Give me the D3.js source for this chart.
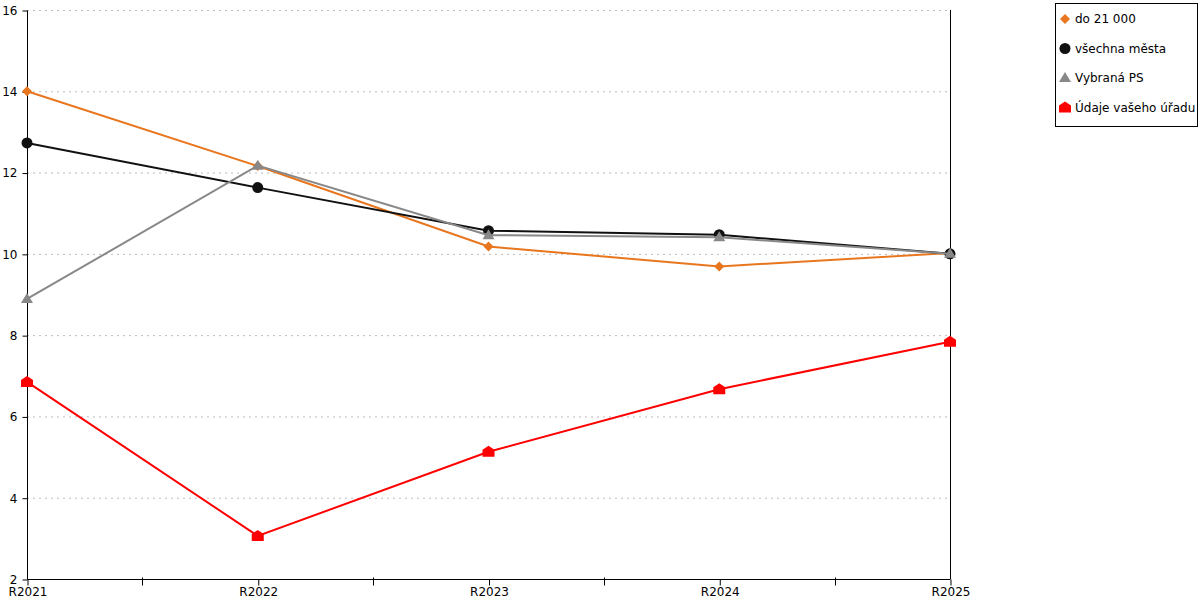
<!DOCTYPE html>
<html>
<head>
<meta charset="utf-8">
<script src="https://cdn.jsdelivr.net/npm/d3@7"></script>
<style>
  body { margin: 0; background: #fff; }
  text { font-family: "DejaVu Sans", Verdana, sans-serif; }
</style>
</head>
<body>
<div id="chart"></div>
<script>
var categories = ["R2021", "R2022", "R2023", "R2024", "R2025"];
var yTicks = [2, 4, 6, 8, 10, 12, 14, 16];

var orangeValues = [14.0, 12.16, 10.18, 9.69, 10.02];
var blackValues = [12.73, 11.63, 10.57, 10.47, 10.0];
var grayValues = [8.89, 12.17, 10.46, 10.41, 10.0];
var redValues = [6.85, 3.06, 5.13, 6.67, 7.84];

var seriesNames = ["do 21 000", "všechna města", "Vybraná PS", "Údaje vašeho úřadu"];

var svg = d3.select("#chart")
    .append("svg")
    .attr("width", 1200)
    .attr("height", 600);

var plotLeft = 27, plotRight = 950, plotTop = 10, plotBottom = 579;

var x = d3.scalePoint()
    .domain(categories)
    .range([plotLeft, plotRight]);

var y = d3.scaleLinear()
    .domain([2, 16])
    .range([plotBottom, plotTop]);

// grid lines
svg.append("g")
    .selectAll("line")
    .data(yTicks.filter(function (d) { return d !== 2; }))
    .enter()
    .append("line")
    .attr("x1", plotLeft)
    .attr("x2", plotRight)
    .attr("y1", function (d) { return y(d) + 0.5; })
    .attr("y2", function (d) { return y(d) + 0.5; })
    .attr("stroke", "#bbb")
    .attr("stroke-dasharray", "2,4");

// left axis
var yAxis = svg.append("g")
    .attr("transform", "translate(" + (plotLeft + 0.5) + ",0.5)")
    .call(d3.axisLeft(y).tickValues(yTicks).tickSize(5).tickPadding(5));
yAxis.select(".domain").attr("d", "M0," + plotTop + "V" + plotBottom);
yAxis.selectAll("text").attr("font-size", 12).attr("fill", "#000");

// right axis line
svg.append("line")
    .attr("x1", plotRight + 0.5).attr("x2", plotRight + 0.5)
    .attr("y1", plotTop).attr("y2", plotBottom)
    .attr("stroke", "#000");

// bottom axis
var xAxis = svg.append("g")
    .attr("transform", "translate(0.5," + (plotBottom + 0.5) + ")")
    .call(d3.axisBottom(x).tickSize(6).tickPadding(2));
xAxis.select(".domain").attr("d", "M" + plotLeft + ",0H" + plotRight);
xAxis.selectAll("text").attr("font-size", 12).attr("fill", "#000");

// minor ticks between categories
var mids = categories.slice(1).map(function (c, i) {
    return (x(categories[i]) + x(c)) / 2;
});
xAxis.selectAll(".mid")
    .data(mids)
    .enter()
    .append("line")
    .attr("class", "mid")
    .attr("x1", function (d) { return Math.round(d); })
    .attr("x2", function (d) { return Math.round(d); })
    .attr("y1", -2)
    .attr("y2", 6)
    .attr("stroke", "#000");

var diamond = "M0,-5L5,0L0,5L-5,0Z";
var triangle = "M0,-6L6,4L-6,4Z";
var house = "M0,-6L6,-2L6,5L-6,5L-6,-2Z";

var series = [
    {name: seriesNames[0], values: orangeValues, color: "#e8761e", shape: diamond},
    {name: seriesNames[1], values: blackValues, color: "#111", shape: "circle"},
    {name: seriesNames[2], values: grayValues, color: "#888", shape: triangle},
    {name: seriesNames[3], values: redValues, color: "#ff0000", shape: house}
];

var line = d3.line()
    .x(function (d, i) { return x(categories[i]); })
    .y(function (d) { return y(d); });

function drawMarker(g, s) {
    if (s.shape === "circle") {
        g.append("circle").attr("r", 5.5).attr("fill", s.color);
    } else {
        g.append("path").attr("d", s.shape).attr("fill", s.color);
    }
}

series.forEach(function (s) {
    svg.append("path")
        .datum(s.values)
        .attr("d", line)
        .attr("fill", "none")
        .attr("stroke", s.color)
        .attr("stroke-width", 2);

    s.values.forEach(function (v, i) {
        var g = svg.append("g")
            .attr("transform", "translate(" + x(categories[i]) + "," + y(v) + ")");
        drawMarker(g, s);
    });
});

// legend
var legend = svg.append("g");
legend.append("rect")
    .attr("x", 1055.5)
    .attr("y", 3.5)
    .attr("width", 142)
    .attr("height", 123)
    .attr("fill", "#fff")
    .attr("stroke", "#000");

series.forEach(function (s, i) {
    var item = legend.append("g")
        .attr("transform", "translate(1065," + (19 + i * 29.5) + ")");
    drawMarker(item, s);
    item.append("text")
        .attr("x", 10)
        .attr("y", 4)
        .attr("font-size", 12)
        .attr("fill", "#000")
        .text(s.name);
});
</script>
</body>
</html>
